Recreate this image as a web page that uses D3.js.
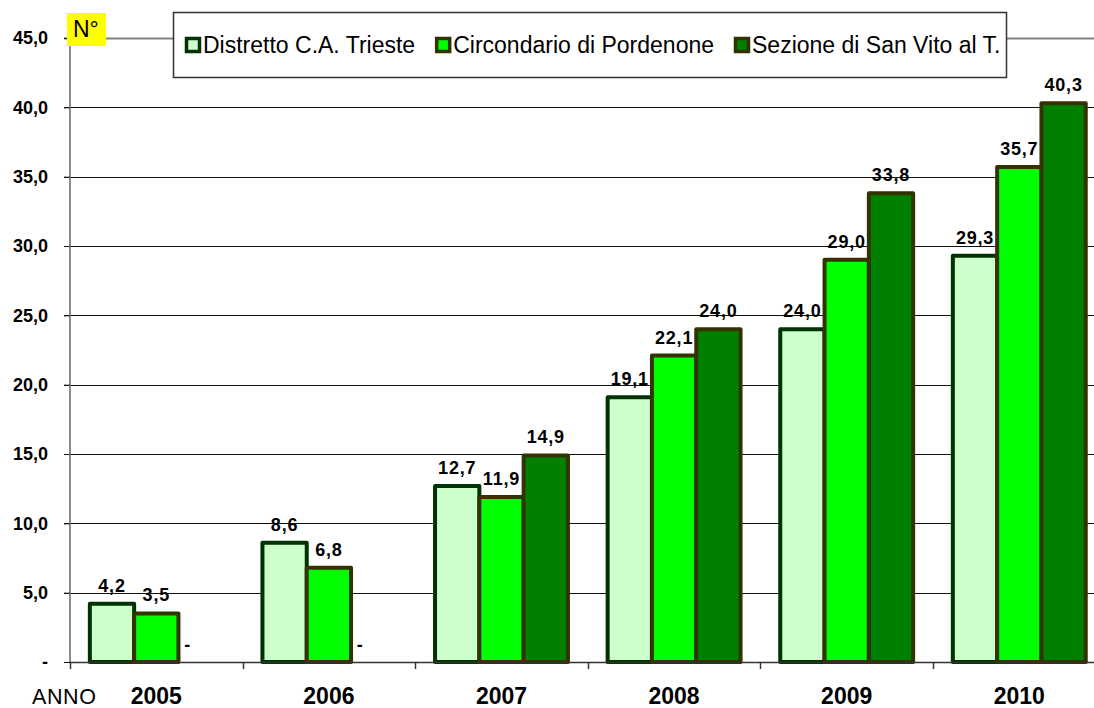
<!DOCTYPE html>
<html>
<head>
<meta charset="utf-8">
<script src="https://cdn.jsdelivr.net/npm/d3@7"></script>
<style>
  html, body { margin: 0; padding: 0; background: #fff; }
  svg { display: block; }
  text { font-family: Arial, "Liberation Sans", sans-serif; }
</style>
</head>
<body>
<svg id="chart" width="1094" height="708"></svg>
<script>
// ---- Data ----
const years = ["2005", "2006", "2007", "2008", "2009", "2010"];
const seriesNames = ["Distretto C.A. Trieste", "Circondario di Pordenone", "Sezione di San Vito al T."];
const trieste   = [4.2, 8.6, 12.7, 19.1, 24.0, 29.3];
const pordenone = [3.5, 6.8, 11.9, 22.1, 29.0, 35.7];
const sanVito   = [0, 0, 14.9, 24.0, 33.8, 40.3];
const yTicks = [0, 5, 10, 15, 20, 25, 30, 35, 40, 45];
const yAxisTitle = "N°";
const xAxisTitle = "ANNO";

const seriesValues = [trieste, pordenone, sanVito];
const fills   = ["#CCFFCC", "#00FF00", "#008000"];
const strokes = ["#003300", "#333300", "#333300"];

const fmt = v => v === 0 ? "-" : v.toFixed(1).replace(".", ",");

// ---- Layout ----
const svg = d3.select("#chart");
const plotLeft = 70, plotTop = 38, plotBottom = 662;
const catStep = 172.6;
const plotRight = plotLeft + catStep * years.length;

const y = d3.scaleLinear().domain([0, 45]).range([plotBottom, plotTop]);
const x0 = d3.scaleBand().domain(years).range([plotLeft, plotRight]).paddingInner(0.23).paddingOuter(0.115);
const x1 = d3.scaleBand().domain(d3.range(seriesNames.length)).range([0, x0.bandwidth()]);

// gridlines
svg.append("g").selectAll("line").data(yTicks.filter(d => d > 0)).join("line")
  .attr("x1", plotLeft - 6).attr("x2", 1094)
  .attr("y1", d => Math.round(y(d)) + 0.5).attr("y2", d => Math.round(y(d)) + 0.5)
  .attr("stroke", d => d === 45 ? "#808080" : "#111")
  .attr("stroke-width", d => d === 45 ? 2 : 1);

// y axis
const yAxis = d3.axisLeft(y).tickValues(yTicks).tickFormat(fmt).tickSize(6).tickPadding(16);
const gy = svg.append("g").attr("transform", `translate(${plotLeft},0)`).call(yAxis);
gy.select(".domain").remove();
gy.selectAll(".tick line").attr("stroke", "#111");
gy.selectAll(".tick text").attr("font-size", 18).attr("font-weight", "bold").attr("fill", "#000")
  .attr("font-family", "Arial, 'Liberation Sans', sans-serif");
svg.append("line").attr("x1", plotLeft).attr("x2", plotLeft).attr("y1", plotTop).attr("y2", plotBottom)
  .attr("stroke", "#666").attr("stroke-width", 1.5);

// bars
const groups = svg.append("g").selectAll("g").data(years).join("g")
  .attr("transform", d => `translate(${x0(d)},0)`);
groups.selectAll("rect").data((d, i) => seriesValues.map((s, k) => ({k, v: s[i]})).filter(e => e.v > 0)).join("rect")
  .attr("x", d => x1(d.k))
  .attr("width", x1.bandwidth())
  .attr("y", d => y(d.v))
  .attr("height", d => y(0) - y(d.v))
  .attr("fill", d => fills[d.k])
  .attr("stroke", d => strokes[d.k])
  .attr("stroke-width", 4)
  .attr("stroke-linejoin", "round");

// value labels
groups.selectAll("text.val").data((d, i) => seriesValues.map((s, k) => ({k, v: s[i]}))).join("text")
  .attr("class", "val")
  .attr("x", d => x1(d.k) + x1.bandwidth() / 2 - (d.v === 0 ? 13 : 0))
  .attr("y", d => y(d.v) - (d.v === 0 ? 11 : 12))
  .attr("text-anchor", "middle")
  .attr("font-size", 18).attr("font-weight", "bold").attr("letter-spacing", 0.8)
  .text(d => fmt(d.v));

// x axis
svg.append("line").attr("x1", plotLeft).attr("x2", 1094).attr("y1", plotBottom + 0.5).attr("y2", plotBottom + 0.5)
  .attr("stroke", "#333").attr("stroke-width", 1.5);
svg.append("g").selectAll("line").data(d3.range(years.length + 1)).join("line")
  .attr("x1", i => Math.round(plotLeft + i * x0.step()) + 0.5).attr("x2", i => Math.round(plotLeft + i * x0.step()) + 0.5)
  .attr("y1", plotBottom).attr("y2", plotBottom + 7)
  .attr("stroke", "#333").attr("stroke-width", 1.5);
svg.append("g").selectAll("text").data(years).join("text")
  .attr("x", d => x0(d) + x0.bandwidth() / 2)
  .attr("y", 704)
  .attr("text-anchor", "middle")
  .attr("font-size", 23).attr("font-weight", "bold")
  .text(d => d);
svg.append("text").attr("x", 32).attr("y", 704).attr("font-size", 21.5).attr("letter-spacing", 0.6).text(xAxisTitle);

// N° label
svg.append("rect").attr("x", 67).attr("y", 13).attr("width", 39).attr("height", 33).attr("fill", "#FFFF00");
svg.append("text").attr("x", 73).attr("y", 37).attr("font-size", 23).text(yAxisTitle);

// legend
const lg = svg.append("g");
lg.append("rect").attr("x", 173.5).attr("y", 12.5).attr("width", 833).attr("height", 65)
  .attr("fill", "#fff").attr("stroke", "#333").attr("stroke-width", 1.5);
let lx = 185;
seriesNames.forEach((name, k) => {
  lg.append("rect").attr("x", lx + 1.5).attr("y", 38.5).attr("width", 13).attr("height", 13)
    .attr("fill", fills[k]).attr("stroke", strokes[k]).attr("stroke-width", 3.5);
  const t = lg.append("text").attr("x", lx + 18).attr("y", 53).attr("font-size", 23).attr("fill", "#000").text(name);
  lx = lx + 18 + t.node().getComputedTextLength() + 20;
});
</script>
</body>
</html>
